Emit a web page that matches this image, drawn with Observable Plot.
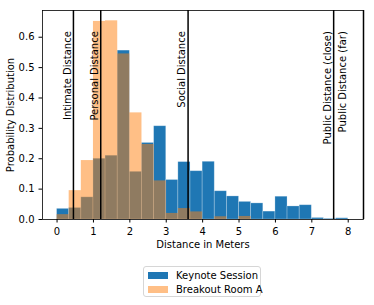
<!DOCTYPE html>
<html>
<head>
<meta charset="utf-8">
<script src="https://cdn.jsdelivr.net/npm/d3@7"></script>
<script src="https://cdn.jsdelivr.net/npm/@observablehq/plot@0.6"></script>
<style>
  html, body { margin: 0; padding: 0; background: #fff; }
  #wrap { position: relative; width: 374px; height: 305px; font-family: "DejaVu Sans", sans-serif; }
  #legend { position: absolute; left: 143px; top: 266px; width: 118px; height: 31px; border: 1px solid #d6d6d6; border-radius: 3px; font-size: 10px; color: #000; box-sizing: border-box; }
  .row { position: absolute; left: 4px; height: 12px; display: flex; align-items: center; white-space: nowrap; }
  .sw { width: 20px; height: 7px; margin-right: 8px; flex: none; }
</style>
</head>
<body>
<div id="wrap"><div id="chart"></div><div id="legend"></div></div>
<script>
// bin edges (meters)
const binEdges = [0, 0.333, 0.667, 1.0, 1.333, 1.667, 2.0, 2.333, 2.667, 3.0, 3.333, 3.667, 4.0,
                  4.333, 4.667, 5.0, 5.333, 5.667, 6.0, 6.333, 6.667, 7.0, 7.333, 7.667, 8.0];
const seriesNames = ["Keynote Session", "Breakout Room A"];
const keynote  = [0.035, 0.038, 0.073, 0.200, 0.210, 0.556, 0.157, 0.252, 0.307, 0.130, 0.189, 0.159,
                  0.190, 0.093, 0.076, 0.058, 0.053, 0.026, 0.075, 0.043, 0.047, 0.005, 0.002, 0.004];
const breakout = [0.016, 0.095, 0.194, 0.652, 0.654, 0.545, 0.351, 0.247, 0.127, 0.020, 0.036, 0.025,
                  0.000, 0.009, 0.000, 0.010, 0, 0, 0, 0, 0, 0, 0, 0];
// proxemic zone boundaries and labels
const zoneNames = ["Intimate Distance", "Personal Distance", "Social Distance", "Public Distance (close)", "Public Distance (far)"];
const zoneLines = [0.45, 1.2, 3.6, 7.6, 8.42];
const zoneLabelX = [0.45, 1.2, 3.6, 7.6, 8.02];
const xTicks = [0, 1, 2, 3, 4, 5, 6, 7, 8];
const yTicks = [0, 0.1, 0.2, 0.3, 0.4, 0.5, 0.6];

const colors = ["#1f77b4", "#ff7f0e"];

const bins = (vals) => vals.map((v, i) => ({x1: binEdges[i], x2: binEdges[i + 1], y: v}));
const kData = bins(keynote);
const bData = bins(breakout);
const zones = zoneNames.map((n, i) => ({name: n, line: zoneLines[i], lx: zoneLabelX[i]}));

const plot = Plot.plot({
  width: 374,
  height: 252,
  marginTop: 10,
  marginBottom: 33,
  marginLeft: 42,
  marginRight: 11,
  style: {fontFamily: "DejaVu Sans", fontSize: "10px", color: "#000", background: "#fff"},
  x: {domain: [-0.4, 8.42], ticks: xTicks, label: null},
  y: {domain: [0, 0.688], ticks: yTicks, label: null},
  marks: [
    Plot.rectY(kData, {x1: "x1", x2: "x2", y: "y", fill: colors[0], stroke: "#ffffff", strokeOpacity: 0.3, strokeWidth: 0.8, insetLeft: 0, insetRight: 0}),
    Plot.rectY(bData.filter(d => d.y > 0), {x1: "x1", x2: "x2", y: "y", fill: colors[1], fillOpacity: 0.5, insetLeft: 0, insetRight: 0}),
    Plot.ruleX(zones, {x: "line", stroke: "#000", strokeWidth: 1.5}),
    Plot.text(zones, {x: "lx", y: 0.62, text: "name", rotate: -90, textAnchor: "end", dx: -6, fontSize: 10, fill: "#000"}),
    Plot.axisX({ticks: xTicks, tickSize: 3.5, tickPadding: 4.5, tickFormat: d => String(d), label: null}),
    Plot.axisY({ticks: yTicks, tickSize: 3.5, tickPadding: 4.5, tickFormat: d3.format(".1f"), label: null}),
    Plot.text(["Distance in Meters"], {frameAnchor: "bottom", dy: 28, fontSize: 10, fill: "#000"}),
    Plot.text(["Probability Distribution"], {frameAnchor: "left", textAnchor: "middle", dx: -32, rotate: -90, fontSize: 10, fill: "#000"}),
    Plot.frame({stroke: "#000", strokeWidth: 0.8})
  ]
});
document.getElementById("chart").appendChild(plot);

const legend = document.getElementById("legend");
seriesNames.forEach((name, i) => {
  const row = document.createElement("div");
  row.className = "row";
  row.style.top = (i === 0 ? 2 : 16) + "px";
  const sw = document.createElement("div");
  sw.className = "sw";
  sw.style.background = colors[i];
  if (i === 1) sw.style.opacity = 0.5;
  const t = document.createElement("span");
  t.textContent = name;
  row.appendChild(sw);
  row.appendChild(t);
  legend.appendChild(row);
});
</script>
</body>
</html>
